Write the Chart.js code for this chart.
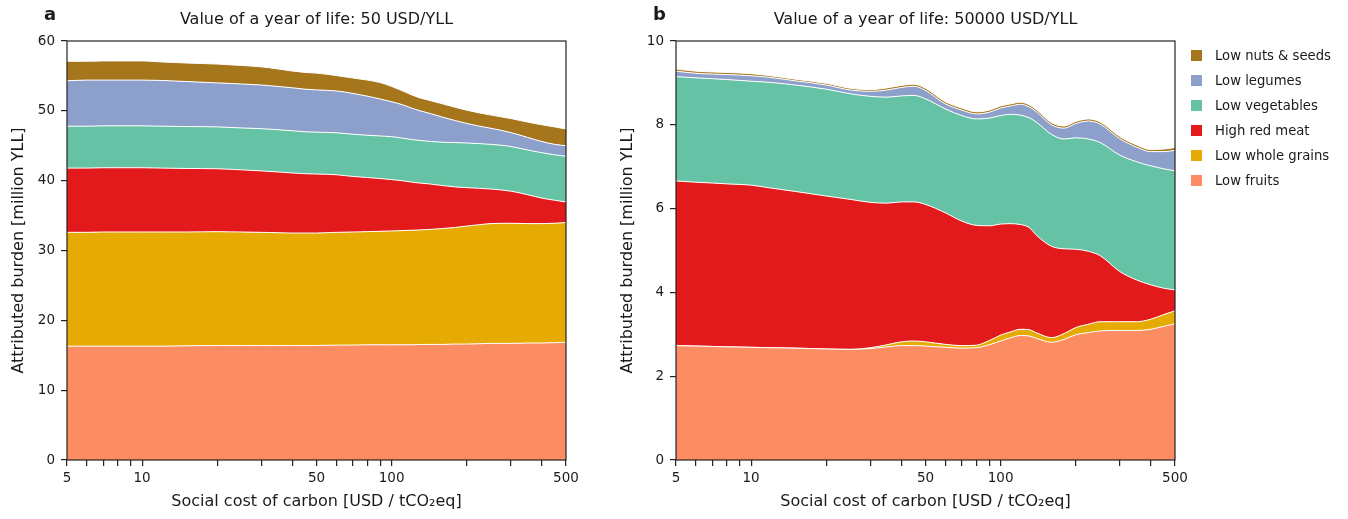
<!DOCTYPE html>
<html>
<head>
<meta charset="utf-8">
<script src="https://cdn.jsdelivr.net/npm/chart.js@4.4.1/dist/chart.umd.min.js"></script>
<style>
  body { margin: 0; background: #fff; width: 1348px; height: 519px; overflow: hidden; position: relative; font-family: "DejaVu Sans", sans-serif; }
  .panel { position: absolute; top: 0; height: 519px; }
  #cajaA { left: 0; width: 600px; }
  #cajaB { left: 600px; width: 748px; }
  #leyenda { position: absolute; left: 1191px; top: 43px; font-size: 13.2px; color: #1a1a1a; }
  .item { height: 25px; display: flex; align-items: center; white-space: nowrap; }
  .cuadro { width: 11px; height: 11px; margin-right: 13px; }
</style>
</head>
<body>
<div class="panel" id="cajaA"><canvas id="chartA"></canvas></div>
<div class="panel" id="cajaB"><canvas id="chartB"></canvas></div>
<div id="leyenda"></div>
<script>
// Eje x: costo social del carbono (escala log)
const costoCarbono = [5, 6, 7, 8, 10, 12, 15, 20, 25, 30, 35, 40, 45, 50, 60, 70, 80, 90, 100, 110, 120, 130, 140, 160, 180, 200, 225, 250, 300, 350, 400, 450, 500];
const ticksMayores = [5, 10, 50, 100, 500];
const ticksMenores = [6, 7, 8, 9, 20, 30, 40, 60, 70, 80, 90, 200, 300, 400];

// Categorias de abajo hacia arriba
const categorias = ['Low fruits', 'Low whole grains', 'High red meat', 'Low vegetables', 'Low legumes', 'Low nuts & seeds'];
const colores = ['#fc8d62', '#e6ab02', '#e31a1c', '#66c2a5', '#8da0cb', '#a6761d'];

// Panel a: 50 USD/YLL (millones de YLL)
const frutasA = [16.3, 16.3, 16.3, 16.3, 16.3, 16.3, 16.35, 16.4, 16.4, 16.4, 16.4, 16.4, 16.4, 16.4, 16.45, 16.45, 16.5, 16.5, 16.5, 16.5, 16.5, 16.55, 16.55, 16.55, 16.6, 16.6, 16.65, 16.7, 16.7, 16.75, 16.75, 16.8, 16.85];
const granosA = [16.3, 16.3, 16.35, 16.35, 16.35, 16.35, 16.3, 16.3, 16.25, 16.2, 16.15, 16.1, 16.1, 16.1, 16.15, 16.2, 16.2, 16.25, 16.3, 16.35, 16.4, 16.4, 16.45, 16.6, 16.7, 16.9, 17.05, 17.15, 17.2, 17.1, 17.1, 17.1, 17.15];
const carneA = [9.2, 9.2, 9.2, 9.2, 9.2, 9.15, 9.1, 9.0, 8.9, 8.8, 8.7, 8.6, 8.5, 8.45, 8.25, 7.95, 7.75, 7.55, 7.35, 7.15, 6.9, 6.7, 6.55, 6.15, 5.8, 5.5, 5.2, 4.95, 4.6, 4.15, 3.65, 3.3, 2.95];
const verdurasA = [6.0, 6.0, 6.0, 6.0, 6.0, 6.0, 6.0, 6.0, 6.0, 6.05, 6.05, 6.05, 6.0, 6.0, 6.0, 6.05, 6.05, 6.1, 6.15, 6.1, 6.1, 6.1, 6.1, 6.2, 6.35, 6.4, 6.4, 6.4, 6.4, 6.4, 6.5, 6.5, 6.55];
const legumbresA = [6.5, 6.6, 6.55, 6.55, 6.55, 6.55, 6.45, 6.3, 6.3, 6.25, 6.2, 6.15, 6.1, 6.05, 6.0, 5.85, 5.6, 5.3, 5.0, 4.8, 4.5, 4.25, 4.05, 3.6, 3.15, 2.8, 2.5, 2.3, 2.0, 1.8, 1.6, 1.5, 1.5];
const nuecesA = [2.8, 2.7, 2.75, 2.75, 2.75, 2.65, 2.65, 2.7, 2.65, 2.6, 2.5, 2.4, 2.4, 2.4, 2.2, 2.2, 2.3, 2.35, 2.2, 2.0, 1.9, 1.85, 1.85, 1.9, 1.9, 1.9, 1.9, 1.9, 2.0, 2.2, 2.4, 2.5, 2.4];

// Panel b: 50000 USD/YLL
const frutasB = [2.73, 2.72, 2.71, 2.70, 2.69, 2.68, 2.67, 2.65, 2.64, 2.66, 2.70, 2.73, 2.73, 2.72, 2.69, 2.67, 2.68, 2.75, 2.84, 2.92, 2.97, 2.96, 2.90, 2.81, 2.88, 2.99, 3.04, 3.08, 3.09, 3.09, 3.12, 3.19, 3.25];
const granosB = [0, 0, 0, 0, 0, 0, 0, 0, 0, 0.02, 0.05, 0.09, 0.11, 0.10, 0.07, 0.06, 0.06, 0.10, 0.14, 0.14, 0.15, 0.15, 0.13, 0.11, 0.14, 0.17, 0.20, 0.22, 0.21, 0.21, 0.24, 0.28, 0.31];
const carneB = [3.93, 3.91, 3.90, 3.89, 3.87, 3.81, 3.74, 3.65, 3.58, 3.47, 3.38, 3.34, 3.32, 3.28, 3.14, 2.97, 2.86, 2.74, 2.65, 2.58, 2.50, 2.44, 2.32, 2.18, 2.02, 1.87, 1.74, 1.58, 1.20, 1.00, 0.82, 0.63, 0.50];
const verdurasB = [2.49, 2.49, 2.49, 2.49, 2.48, 2.52, 2.54, 2.55, 2.52, 2.53, 2.53, 2.53, 2.54, 2.52, 2.48, 2.52, 2.54, 2.57, 2.59, 2.61, 2.61, 2.62, 2.70, 2.67, 2.62, 2.66, 2.68, 2.70, 2.78, 2.82, 2.84, 2.85, 2.84];
const legumbresB = [0.13, 0.11, 0.11, 0.12, 0.13, 0.12, 0.10, 0.10, 0.09, 0.12, 0.17, 0.20, 0.22, 0.20, 0.12, 0.13, 0.12, 0.14, 0.18, 0.20, 0.26, 0.26, 0.25, 0.23, 0.26, 0.34, 0.43, 0.44, 0.39, 0.35, 0.34, 0.41, 0.49];
const nuecesB = [0.05, 0.05, 0.05, 0.05, 0.05, 0.04, 0.04, 0.04, 0.04, 0.04, 0.05, 0.05, 0.05, 0.05, 0.05, 0.05, 0.05, 0.05, 0.05, 0.05, 0.05, 0.05, 0.05, 0.05, 0.05, 0.05, 0.05, 0.05, 0.05, 0.05, 0.05, 0.06, 0.07];

const colorTexto = '#1a1a1a';
const fuente = '"DejaVu Sans", sans-serif';

// Marco del grafico, titulo y letra del panel
const marcoPlugin = {
    id: 'marco',
    afterDraw(chart, args, opts) {
        const { ctx, chartArea: a } = chart;
        ctx.save();
        ctx.strokeStyle = '#222';
        ctx.lineWidth = 1.2;
        ctx.strokeRect(a.left, a.top, a.right - a.left, a.bottom - a.top);
        ctx.fillStyle = colorTexto;
        ctx.textBaseline = 'middle';
        ctx.textAlign = 'center';
        ctx.font = '16px ' + fuente;
        ctx.fillText(opts.titulo, (a.left + a.right) / 2, 19.5);
        ctx.textAlign = 'left';
        ctx.font = 'bold 18px ' + fuente;
        ctx.fillText(opts.letra, opts.letraX, 15.5);
        ctx.restore();
    }
};

function crearDatasets(series) {
    return series.map((valores, i) => ({
        label: categorias[i],
        data: costoCarbono.map((x, j) => ({ x: x, y: valores[j] })),
        backgroundColor: colores[i],
        borderColor: '#ffffff',
        borderWidth: 1,
        pointRadius: 0,
        cubicInterpolationMode: 'monotone',
        fill: i === 0 ? 'origin' : '-1'
    }));
}

function crearGrafico(idCanvas, series, cfg) {
    const ctx = document.getElementById(idCanvas).getContext('2d');
    return new Chart(ctx, {
        type: 'line',
        data: { datasets: crearDatasets(series) },
        options: {
            responsive: true,
            maintainAspectRatio: false,
            animation: false,
            layout: { padding: { top: 41, right: cfg.derecha, bottom: 0, left: 0 } },
            plugins: {
                legend: { display: false },
                tooltip: { enabled: false },
                marco: { titulo: cfg.titulo, letra: cfg.letra, letraX: cfg.letraX }
            },
            scales: {
                x: {
                    type: 'logarithmic',
                    min: 5,
                    max: 500,
                    afterBuildTicks: (eje) => {
                        eje.ticks = ticksMayores.concat(ticksMenores).sort((p, q) => p - q).map(v => ({ value: v }));
                    },
                    afterFit: (eje) => { eje.height = 59; },
                    ticks: {
                        autoSkip: false,
                        maxRotation: 0,
                        padding: 4,
                        color: colorTexto,
                        font: { family: fuente, size: 13.5 },
                        callback: (v) => ticksMayores.includes(v) ? String(v) : ''
                    },
                    grid: { drawOnChartArea: false, drawTicks: true, tickLength: 6, color: '#222', lineWidth: 1.2 },
                    border: { display: false },
                    title: {
                        display: true,
                        text: 'Social cost of carbon [USD / tCO\u2082eq]',
                        color: colorTexto,
                        font: { family: fuente, size: 16 },
                        padding: { top: 0, bottom: 7.5 }
                    }
                },
                y: {
                    stacked: true,
                    min: 0,
                    max: cfg.maxY,
                    afterFit: (eje) => { eje.width = cfg.anchoY; },
                    ticks: {
                        stepSize: cfg.paso,
                        padding: 6,
                        color: colorTexto,
                        font: { family: fuente, size: 13.5 }
                    },
                    grid: { drawOnChartArea: false, drawTicks: true, tickLength: 6, color: '#222', lineWidth: 1.2 },
                    border: { display: false },
                    title: {
                        display: true,
                        text: 'Attributed burden [million YLL]',
                        color: colorTexto,
                        font: { family: fuente, size: 16 },
                        padding: { top: cfg.tituloY, bottom: 0 }
                    }
                }
            }
        },
        plugins: [marcoPlugin]
    });
}

crearGrafico('chartA', [frutasA, granosA, carneA, verdurasA, legumbresA, nuecesA], {
    titulo: 'Value of a year of life: 50 USD/YLL', letra: 'a', letraX: 44,
    maxY: 60, paso: 10, anchoY: 67, derecha: 34, tituloY: 9
});
crearGrafico('chartB', [frutasB, granosB, carneB, verdurasB, legumbresB, nuecesB], {
    titulo: 'Value of a year of life: 50000 USD/YLL', letra: 'b', letraX: 653 - 600,
    maxY: 10, paso: 2, anchoY: 76, derecha: 173, tituloY: 18
});

// Leyenda a la derecha (de arriba hacia abajo)
const leyenda = document.getElementById('leyenda');
for (let i = categorias.length - 1; i >= 0; i--) {
    const fila = document.createElement('div');
    fila.className = 'item';
    fila.innerHTML = `<div class="cuadro" style="background:${colores[i]}"></div><span>${categorias[i]}</span>`;
    leyenda.appendChild(fila);
}
</script>
</body>
</html>
